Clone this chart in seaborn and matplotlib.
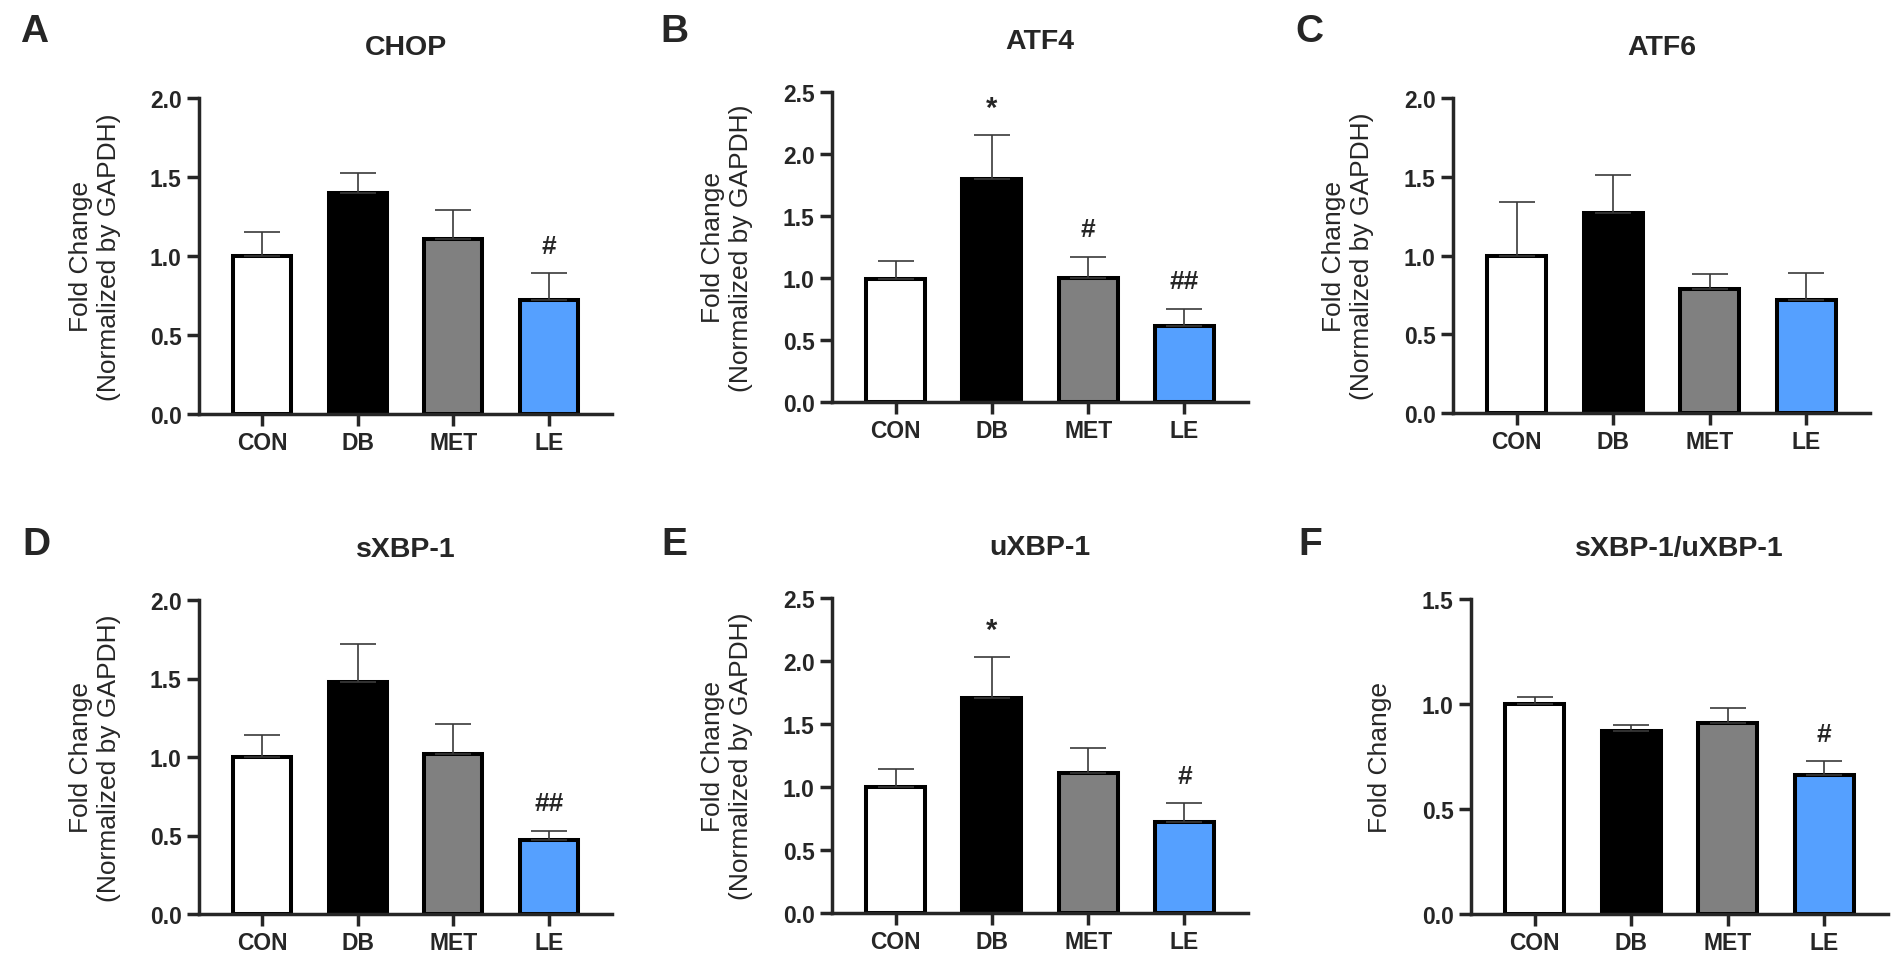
import numpy as np
import seaborn as sns
import matplotlib.pyplot as plt

groups = ["CON", "DB", "MET", "LE"]
colors = ["#FFFFFF", "#000000", "#808080", "#55A0FF"]

# mean and upper error (SEM)
chop_mean = [1.00, 1.40, 1.11, 0.72]
chop_err = [0.155, 0.125, 0.18, 0.17]
chop_sig = ["", "", "", "#"]

atf4_mean = [0.99, 1.80, 1.00, 0.61]
atf4_err = [0.15, 0.35, 0.17, 0.14]
atf4_sig = ["", "*", "#", "##"]

atf6_mean = [1.00, 1.27, 0.79, 0.72]
atf6_err = [0.34, 0.24, 0.09, 0.17]
atf6_sig = ["", "", "", ""]

sxbp_mean = [1.00, 1.48, 1.02, 0.47]
sxbp_err = [0.14, 0.24, 0.19, 0.06]
sxbp_sig = ["", "", "", "##"]

uxbp_mean = [1.00, 1.71, 1.11, 0.72]
uxbp_err = [0.14, 0.32, 0.20, 0.15]
uxbp_sig = ["", "*", "", "#"]

ratio_mean = [1.00, 0.87, 0.91, 0.66]
ratio_err = [0.035, 0.03, 0.07, 0.067]
ratio_sig = ["", "", "", "#"]

titles = ["CHOP", "ATF4", "ATF6", "sXBP-1", "uXBP-1", "sXBP-1/uXBP-1"]
letters = ["A", "B", "C", "D", "E", "F"]
ymax = [2.0, 2.5, 2.0, 2.0, 2.5, 1.5]
ylabels = ["Fold Change\n(Normalized by GAPDH)"] * 5 + ["Fold Change"]
means = [chop_mean, atf4_mean, atf6_mean, sxbp_mean, uxbp_mean, ratio_mean]
errs = [chop_err, atf4_err, atf6_err, sxbp_err, uxbp_err, ratio_err]
sigs = [chop_sig, atf4_sig, atf6_sig, sxbp_sig, uxbp_sig, ratio_sig]

sns.set_style("ticks")
plt.rcParams["font.family"] = ["Liberation Sans", "DejaVu Sans"]

W, H = 1902, 962
fig = plt.figure(figsize=(W / 100, H / 100), dpi=100)

# axes boxes in pixels: left, top, right, bottom
boxes = [(199, 99, 612, 415), (832, 93, 1248, 403), (1453, 99, 1870, 414),
         (199, 601, 612, 915), (832, 599, 1248, 914), (1471, 600, 1888, 915)]
letter_pos = [(20, 42), (660, 42), (1295, 42), (22, 555), (661, 555), (1298, 555)]

for k in range(6):
    l, t, r, b = boxes[k]
    ax = fig.add_axes([l / W, 1 - b / H, (r - l) / W, (b - t) / H])
    sns.barplot(x=groups, y=means[k], hue=groups, palette=colors, legend=False,
                edgecolor="black", linewidth=2.9, width=0.61, errorbar=None,
                saturation=1, ax=ax, zorder=2)
    ax.errorbar(range(4), means[k], yerr=[np.zeros(4), errs[k]], fmt="none",
                ecolor="#3a3a3a", elinewidth=1.2, capsize=13, capthick=1.2, zorder=3)
    for i in range(4):
        if sigs[k][i]:
            ax.annotate(sigs[k][i], xy=(i, means[k][i] + errs[k][i]), xytext=(0, 20),
                        textcoords="offset points", ha="center", va="center",
                        fontsize=21 if sigs[k][i] == "*" else 19, fontweight="bold")
    ax.set_xlim(-0.66, 3.66)
    ax.set_ylim(0, ymax[k])
    ax.set_yticks(np.arange(0, ymax[k] + 0.01, 0.5))
    ax.set_yticklabels([f"{v:.1f}" for v in np.arange(0, ymax[k] + 0.01, 0.5)])
    sns.despine(ax=ax)
    for s in ["left", "bottom"]:
        ax.spines[s].set_linewidth(2.5)
    ax.tick_params(length=8.5, width=2.5, labelsize=16.5, pad=4)
    for lab in ax.get_xticklabels() + ax.get_yticklabels():
        lab.set_fontweight("bold")
    ax.set_xlabel("")
    ax.set_ylabel(ylabels[k], fontsize=19, linespacing=1.2)
    ax.yaxis.set_label_coords(-0.19, 0.5)
    ax.text(0.5, 1 + 51 / (b - t), titles[k], transform=ax.transAxes,
            ha="center", va="center", fontsize=20.5, fontweight="bold")
    lx, ly = letter_pos[k]
    fig.text(lx / W, 1 - ly / H, letters[k], fontsize=28, fontweight="bold",
             ha="left", va="baseline")

fig.savefig("out.png", dpi=100)
